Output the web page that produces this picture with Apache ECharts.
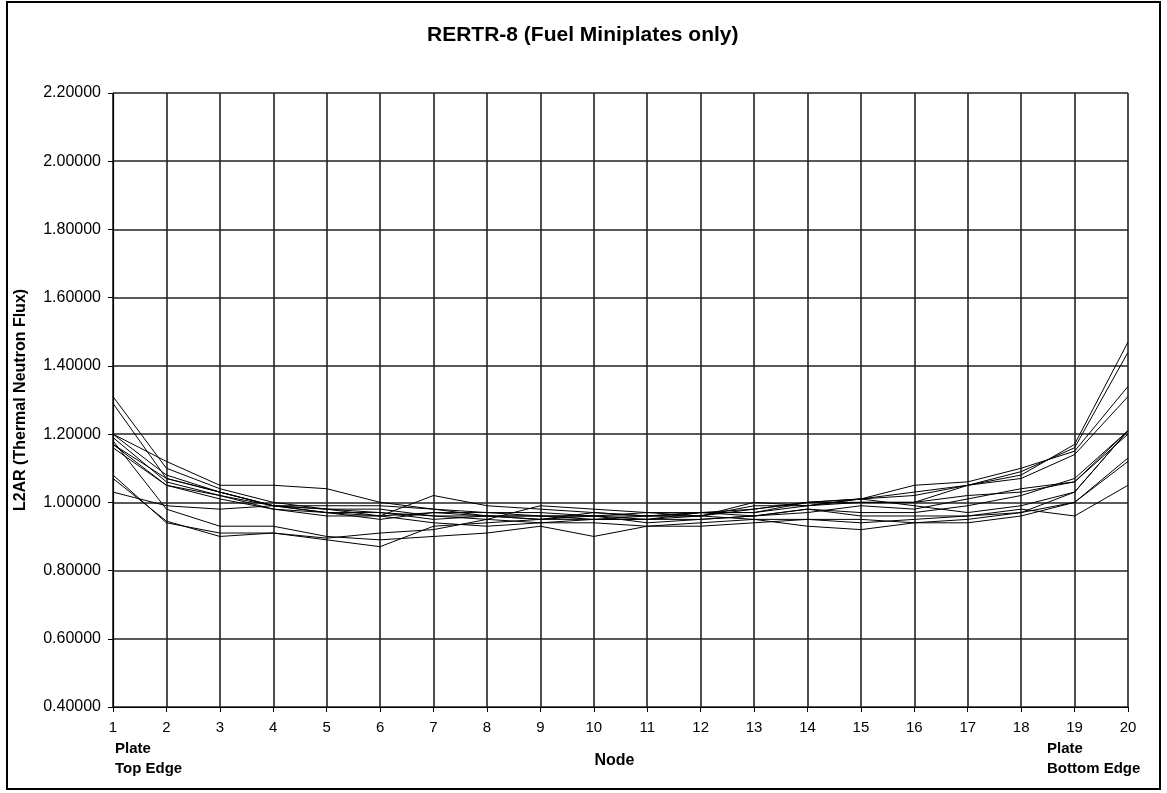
<!DOCTYPE html>
<html>
<head>
<meta charset="utf-8">
<script src="https://cdn.jsdelivr.net/npm/echarts@6/dist/echarts.min.js"></script>
<style>html,body{margin:0;padding:0;background:#fff}#c{width:1167px;height:793px}</style>
</head>
<body>
<div id="c"></div>
<script>
const nodes = [1,2,3,4,5,6,7,8,9,10,11,12,13,14,15,16,17,18,19,20];
const yTicks = [0.4,0.6,0.8,1.0,1.2,1.4,1.6,1.8,2.0,2.2];
const s1  = [1.31,1.10,1.04,1.00,0.98,0.97,0.96,0.96,0.95,0.96,0.96,0.97,0.98,1.00,1.01,1.03,1.05,1.08,1.17,1.47];
const s2  = [1.29,1.07,1.03,0.99,0.98,0.96,0.97,0.96,0.96,0.95,0.96,0.96,0.99,0.99,1.01,1.02,1.05,1.09,1.16,1.44];
const s3  = [1.20,1.12,1.05,1.05,1.04,1.00,0.98,0.97,0.97,0.96,0.97,0.97,0.97,0.99,1.01,1.05,1.06,1.10,1.15,1.34];
const s4  = [1.19,1.06,1.02,0.99,0.97,0.96,1.02,0.99,0.98,0.97,0.96,0.96,1.00,0.99,1.00,1.00,1.05,1.07,1.14,1.31];
const s5  = [1.17,1.07,1.03,0.99,0.98,0.98,0.96,0.95,0.94,0.95,0.95,0.97,0.96,0.98,0.97,0.97,0.99,1.02,1.07,1.21];
const s6  = [1.16,1.05,1.01,0.98,0.97,0.95,0.97,0.97,0.96,0.96,0.94,0.95,0.96,0.97,0.99,0.98,1.01,1.04,1.06,1.20];
const s7  = [1.08,0.94,0.91,0.91,0.89,0.87,0.93,0.94,0.95,0.95,0.95,0.96,0.98,1.00,1.01,0.99,0.97,0.99,1.03,1.21];
const s8  = [1.07,0.945,0.90,0.91,0.895,0.91,0.92,0.95,0.99,0.98,0.97,0.96,0.95,0.93,0.92,0.94,0.95,0.97,1.00,1.13];
const s9  = [1.03,0.99,0.98,0.99,0.99,0.99,0.98,0.96,0.96,0.96,0.95,0.95,0.96,0.98,0.96,0.96,0.96,0.98,0.96,1.05];
const s10 = [1.18,0.98,0.93,0.93,0.90,0.89,0.90,0.91,0.93,0.90,0.93,0.94,0.95,0.95,0.95,0.94,0.94,0.96,1.00,1.12];
const s11 = [1.20,1.08,1.03,0.99,0.97,0.97,0.95,0.96,0.95,0.97,0.96,0.97,0.97,1.00,1.00,1.00,1.02,1.03,1.06,1.21];
const s12 = [1.17,1.05,1.02,0.98,0.96,0.96,0.94,0.93,0.94,0.94,0.93,0.93,0.94,0.95,0.94,0.95,0.96,0.97,1.03,1.21];
const allSeries = [s1,s2,s3,s4,s5,s6,s7,s8,s9,s10,s11,s12];

const FONT = '"Liberation Sans", Arial, sans-serif';
const chart = echarts.init(document.getElementById('c'));
chart.setOption({
  animation: false,
  backgroundColor: '#fff',
  title: {
    text: 'RERTR-8 (Fuel Miniplates only)',
    left: 422, top: 20,
    textStyle: {fontFamily: FONT, fontSize: 21, fontWeight: 'bold', color: '#000'}
  },
  grid: {left: 113, right: 39, top: 93, bottom: 86},
  xAxis: {
    type: 'value', min: 1, max: 20, interval: 1,
    name: 'Node', nameLocation: 'middle', nameGap: 46,
    nameTextStyle: {fontFamily: FONT, fontSize: 16, fontWeight: 'bold', color: '#000', padding: [0, 12, 0, 0]},
    axisLine: {show: true, lineStyle: {color: '#000', width: 1.2}},
    axisTick: {show: true, length: 5, lineStyle: {color: '#000'}},
    axisLabel: {fontFamily: FONT, fontSize: 15, color: '#000', margin: 13},
    splitLine: {show: true, lineStyle: {color: '#222', width: 1.6}}
  },
  yAxis: {
    type: 'value', min: yTicks[0], max: yTicks[yTicks.length-1], interval: 0.2,
    name: 'L2AR (Thermal Neutron Flux)', nameLocation: 'middle', nameGap: 84,
    nameTextStyle: {fontFamily: FONT, fontSize: 16, fontWeight: 'bold', color: '#000'},
    axisLine: {show: true, lineStyle: {color: '#000', width: 1.2}},
    axisTick: {show: true, length: 5, lineStyle: {color: '#000'}},
    axisLabel: {fontFamily: FONT, fontSize: 16, color: '#000', margin: 12, formatter: v => v.toFixed(5)},
    splitLine: {show: true, lineStyle: {color: '#222', width: 1.6}}
  },
  series: allSeries.map((s, i) => ({
    type: 'line', name: 'S' + (i+1), symbol: 'none',
    lineStyle: {color: '#000', width: 1},
    data: nodes.map((n, j) => [n, s[j]])
  })),
  graphic: [
    {type: 'rect', shape: {x: 7, y: 2, width: 1153, height: 787}, style: {fill: 'none', stroke: '#000', lineWidth: 2}, silent: true},
    {type: 'text', left: 115, top: 739, style: {text: 'Plate\nTop Edge', fontFamily: FONT, fontSize: 15, fontWeight: 'bold', fill: '#000', lineHeight: 20}},
    {type: 'text', left: 1047, top: 739, style: {text: 'Plate\nBottom Edge', fontFamily: FONT, fontSize: 15, fontWeight: 'bold', fill: '#000', lineHeight: 20}}
  ]
});
</script>
</body>
</html>
